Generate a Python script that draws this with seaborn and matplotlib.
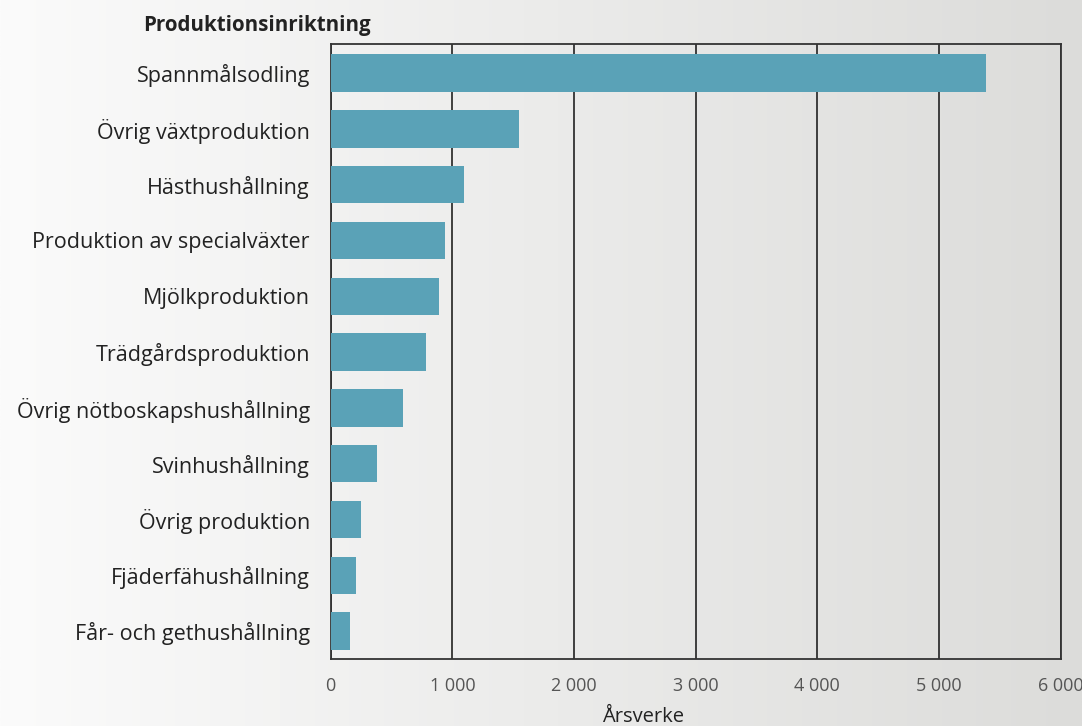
import numpy as np
import pandas as pd
import matplotlib
matplotlib.use("Agg")
import matplotlib.pyplot as plt
import seaborn as sns

categories = ["Spannmålsodling", "Övrig växtproduktion", "Hästhushållning",
              "Produktion av specialväxter", "Mjölkproduktion", "Trädgårdsproduktion",
              "Övrig nötboskapshushållning", "Svinhushållning", "Övrig produktion",
              "Fjäderfähushållning", "Får- och gethushållning"]
values = [5390, 1550, 1095, 940, 890, 783, 594, 380, 250, 208, 160]
xticks = [0, 1000, 2000, 3000, 4000, 5000, 6000]
xticklabels = ["0", "1 000", "2 000", "3 000", "4 000", "5 000", "6 000"]

sns.set_theme(style="white")
plt.rcParams['font.family'] = ['Open Sans', 'DejaVu Sans']

df = pd.DataFrame({"Produktionsinriktning": categories, "Årsverke": values})

fig = plt.figure(figsize=(10.82, 7.26), dpi=100)

# gradient background
bg = fig.add_axes([0, 0, 1, 1], zorder=-10)
grad = np.linspace(0, 1, 512)
c0 = np.array([251, 251, 251]) / 255
c1 = np.array([220, 220, 218]) / 255
img = (c0[None, None, :] * (1 - grad[None, :, None]) + c1[None, None, :] * grad[None, :, None])
img = np.repeat(img, 2, axis=0)
bg.imshow(img, aspect='auto', extent=[0, 1, 0, 1])
bg.axis('off')

ax = fig.add_axes([0.3056, 0.0923, 0.6747, 0.8471])
ax.patch.set_alpha(0)
sns.barplot(data=df, x="Årsverke", y="Produktionsinriktning", orient="h",
            color="#5AA2B7", width=0.67, saturation=1, linewidth=0,
            edgecolor="none", ax=ax, zorder=3)

ax.set_xlim(0, 6000)
ax.set_ylim(10.5, -0.52)
ax.set_xticks(xticks)
ax.set_xticklabels(xticklabels, fontsize=13, color="#555555")
ax.tick_params(axis='x', direction='out', length=5, width=1, color='#333333', pad=8)
ax.tick_params(axis='y', length=0, pad=15, labelsize=15.5, labelcolor="#222222")
ax.xaxis.grid(True, color='#222222', linewidth=1.2, zorder=1)
ax.yaxis.grid(False)
for s in ax.spines.values():
    s.set_visible(True)
    s.set_color('#333333')
    s.set_linewidth(1.3)

ax.set_ylabel("")
ax.set_xlabel("Årsverke", fontsize=14.5, color="#222222")
ax.xaxis.set_label_coords(0.428, -0.078)
ax.xaxis.label.set_va('top')

fig.text(143 / 1082, 1 - 25 / 726, "Produktionsinriktning", fontsize=14.8,
         fontweight='bold', color="#222222", ha='left', va='center')

fig.savefig("out.png", dpi=100)
